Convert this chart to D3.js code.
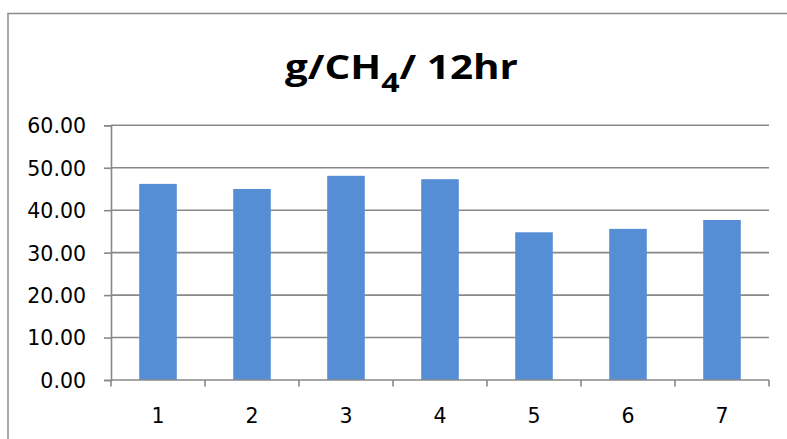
<!DOCTYPE html>
<html><head><meta charset="utf-8">
<script src="https://cdn.jsdelivr.net/npm/d3@7"></script>
<style>body{margin:0;background:#fff;overflow:hidden}</style>
</head><body>
<svg id="c" width="787" height="439"></svg>
<script>
const categories = ["1","2","3","4","5","6","7"];
const values = [46.2, 45.0, 48.1, 47.3, 34.8, 35.6, 37.7];
const yTicks = [0, 10, 20, 30, 40, 50, 60];
const titleMain = "g/CH";
const titleSub = "4";
const titleRest = "/ 12hr";

const svg = d3.select("#c");
const plot = {left: 111, right: 769, top: 125.3, bottom: 380};
const gridColor = "#888888";
const tickFont = "'DejaVu Sans', sans-serif";

// outer chart border (extends beyond the visible area on right/bottom)
svg.append("rect").attr("x", 8).attr("y", 13.5).attr("width", 820).attr("height", 460)
  .attr("fill", "#fff").attr("stroke", "#8a8a8a").attr("stroke-width", 1.5);

const x = d3.scaleBand().domain(categories).range([plot.left, plot.right])
  .paddingInner(0.6).paddingOuter(0.3);
const y = d3.scaleLinear().domain([0, 60]).range([plot.bottom, plot.top]);

// gridlines
svg.append("g").selectAll("line").data(yTicks.filter(d => d > 0)).join("line")
  .attr("x1", plot.left).attr("x2", plot.right)
  .attr("y1", d => y(d)).attr("y2", d => y(d))
  .attr("stroke", gridColor).attr("stroke-width", 1.6);

// bars
svg.append("g").selectAll("rect").data(values).join("rect")
  .attr("x", (d, i) => x(categories[i]))
  .attr("width", x.bandwidth())
  .attr("y", d => y(d))
  .attr("height", d => y(0) - y(d))
  .attr("fill", "#558ED5");

// y axis
const yAxis = d3.axisLeft(y).tickValues(yTicks).tickFormat(d3.format(".2f"))
  .tickSize(7).tickPadding(18);
const ga = svg.append("g").attr("transform", `translate(${plot.left},0)`).call(yAxis);
ga.select(".domain").attr("stroke", gridColor).attr("stroke-width", 1.6);
ga.selectAll(".tick line").attr("stroke", gridColor).attr("stroke-width", 1.6);
ga.selectAll(".tick text").attr("font-family", tickFont).attr("font-size", 20.5)
  .attr("fill", "#000").attr("dy", "0.36em");

// x axis line
svg.append("line").attr("x1", plot.left).attr("x2", plot.right)
  .attr("y1", y(0)).attr("y2", y(0)).attr("stroke", gridColor).attr("stroke-width", 1.6);
// x ticks at category boundaries
const bounds = categories.map(c => x(c) - x.step() * x.paddingInner() / 2);
bounds.push(plot.right);
svg.append("g").selectAll("line").data(bounds).join("line")
  .attr("x1", d => d).attr("x2", d => d)
  .attr("y1", y(0)).attr("y2", y(0) + 6.5)
  .attr("stroke", gridColor).attr("stroke-width", 1.6);
// x labels
svg.append("g").selectAll("text").data(categories).join("text")
  .attr("x", d => x(d) + x.bandwidth() / 2)
  .attr("y", 423)
  .attr("text-anchor", "middle")
  .attr("font-family", tickFont).attr("font-size", 20.5).attr("fill", "#000")
  .text(d => d);

// title
const tt = svg.append("text").attr("x", 0).attr("y", 0)
  .attr("font-family", "'Open Sans', 'Liberation Sans', sans-serif")
  .attr("font-weight", "bold").attr("font-size", 34).attr("fill", "#000");
tt.append("tspan").text(titleMain);
tt.append("tspan").attr("dy", 13).attr("font-size", 27).text(titleSub);
tt.append("tspan").attr("dy", -13).text(titleRest);
const bb = tt.node().getBBox();
const targetW = 233, cx = 401.5;
const s = targetW / bb.width;
tt.attr("transform", `translate(${cx - (bb.x + bb.width / 2) * s},79) scale(${s},1)`);
</script>
</body></html>
